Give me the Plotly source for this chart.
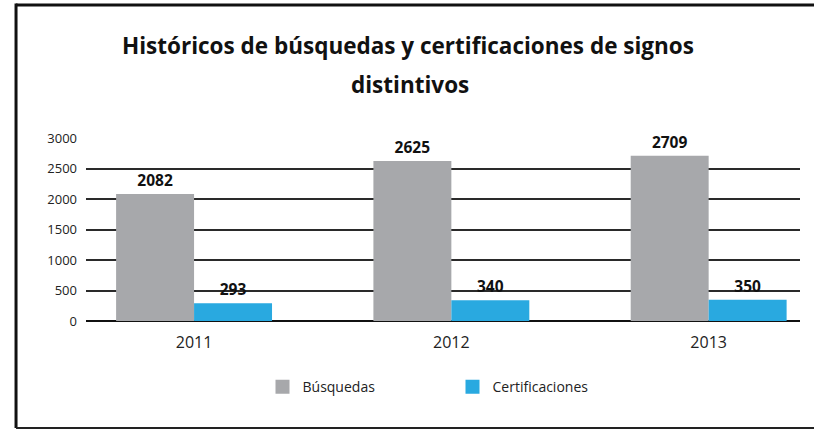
import plotly.graph_objects as go

years = ["2011", "2012", "2013"]
busquedas = [2082, 2625, 2709]
certificaciones = [293, 340, 350]
y_ticks = [0, 500, 1000, 1500, 2000, 2500, 3000]
title_lines = ["Históricos de búsquedas y certificaciones de signos", "distintivos"]
series_names = ["Búsquedas", "Certificaciones"]

GREY = "#A7A8AB"
BLUE = "#29A9E0"
FONT = "Open Sans"
TXT = "#111111"

fig = go.Figure()
for name, vals, col in [(series_names[0], busquedas, GREY), (series_names[1], certificaciones, BLUE)]:
    fig.add_trace(go.Bar(
        name=name, x=years, y=vals, marker=dict(color=col, line=dict(width=0)),
        text=vals, textposition="outside", cliponaxis=False, showlegend=False,
        textfont=dict(family=FONT, size=15.5, color=TXT, weight="bold"),
    ))
# legend entries (square swatches)
for name, col in [(series_names[0], GREY), (series_names[1], BLUE)]:
    fig.add_trace(go.Scatter(
        name=name, x=[years[0]], y=[None], mode="markers",
        marker=dict(symbol="square", size=14, color=col), showlegend=True, hoverinfo="skip",
    ))

annotations = [
    dict(text=title_lines[0], x=0.451, y=1.503),
    dict(text=title_lines[1], x=0.454, y=1.295),
]
for a in annotations:
    a.update(xref="paper", yref="paper", xanchor="center", yanchor="middle", showarrow=False,
             font=dict(family=FONT, size=22.5, color=TXT, weight="bold"))

fig.update_layout(
    width=814, height=430,
    margin=dict(l=86, r=14, t=138, b=109),
    paper_bgcolor="white", plot_bgcolor="white",
    barmode="group", bargap=0.394, bargroupgap=0,
    font=dict(family=FONT, color=TXT),
    annotations=annotations,
    xaxis=dict(
        type="category", range=[-0.42, 2.355], showgrid=False, showline=False,
        ticks="", tickfont=dict(size=16, color="#222222"), ticklabelstandoff=10,
    ),
    yaxis=dict(
        range=[0, 3000], tickvals=y_ticks, showgrid=True, gridcolor="#2a2a2a", gridwidth=1.5,
        zeroline=True, zerolinecolor="#111111", zerolinewidth=1.5, showline=False,
        ticks="", tickfont=dict(size=13, color="#222222"), ticklabelstandoff=8,
    ),
    legend=dict(
        orientation="h", x=0.2472, xanchor="left", y=-0.361, yanchor="middle",
        font=dict(size=14, color="#222222"), entrywidth=145, entrywidthmode="pixels",
        itemsizing="trace", traceorder="normal",
    ),
    shapes=[
        dict(type="line", xref="paper", yref="paper", x0=-0.098, x1=1.03, y0=1.727, y1=1.727,
             line=dict(color="#111111", width=3)),
        dict(type="line", xref="paper", yref="paper", x0=-0.098, x1=-0.098, y0=1.735, y1=-0.585,
             line=dict(color="#111111", width=3)),
        dict(type="line", xref="paper", yref="paper", x0=-0.098, x1=1.03, y0=-0.585, y1=-0.585,
             line=dict(color="#222222", width=2)),
    ],
)

fig.write_html("out.html", config={"displayModeBar": False},
               post_script="document.body.style.margin='0';")
